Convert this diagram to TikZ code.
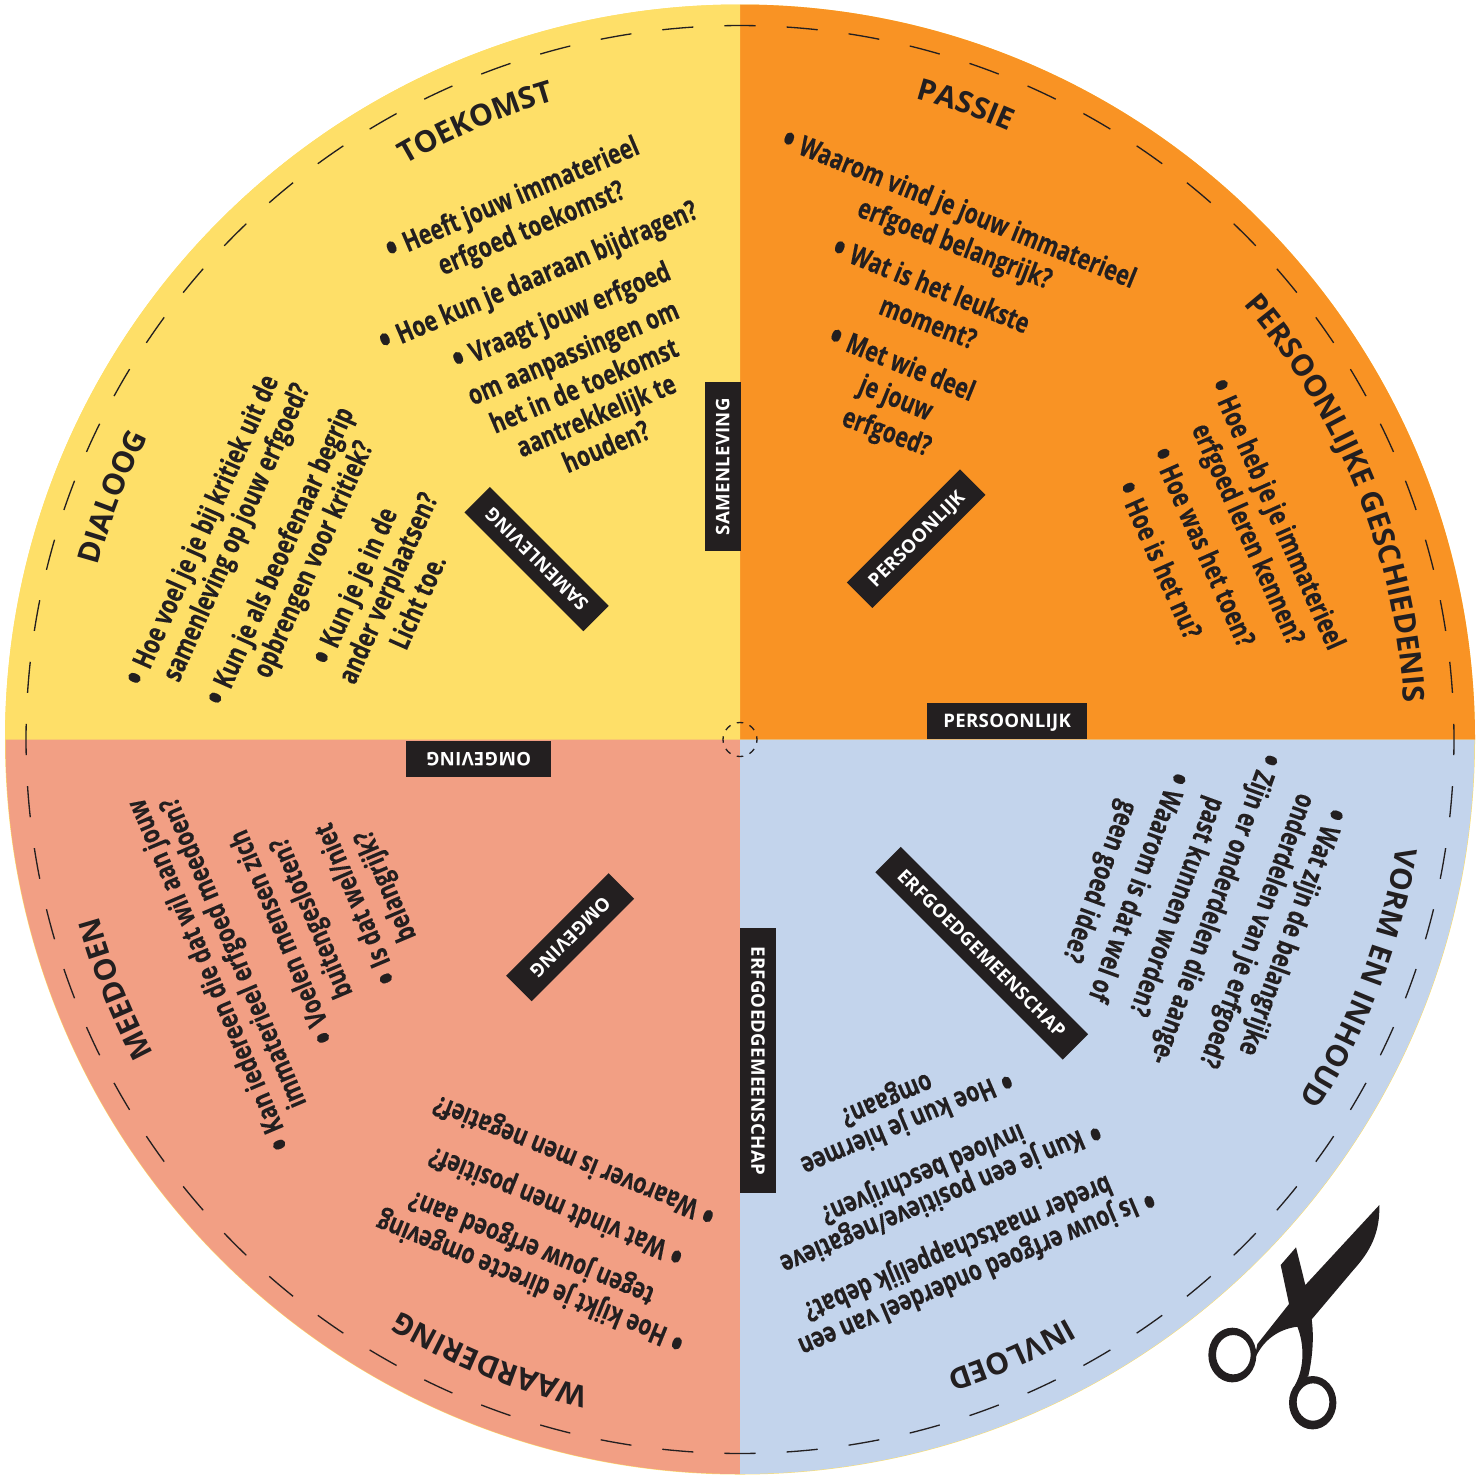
\documentclass[tikz,border=0pt]{standalone}
\usepackage{fontspec}
\usetikzlibrary{decorations.text}
\newfontfamily\bodyf{Open Sans}[FakeStretch=0.76,BoldFeatures={FakeBold=0.25}]
\newfontfamily\titlef{Open Sans}
\newfontfamily\tagf{Open Sans}[LetterSpace=1.5]
\definecolor{ink}{HTML}{231F20}
\definecolor{qyellow}{HTML}{FEDF68}
\definecolor{qorange}{HTML}{F99324}
\definecolor{qsalmon}{HTML}{F29F84}
\definecolor{qblue}{HTML}{C3D4EC}
\newcommand{\bu}{{\fontsize{23}{16}\selectfont\raisebox{-2.2pt}{•}}\hspace{4pt}}
\tikzset{
  body/.style={text=ink,inner sep=0pt,text height=11.5pt,text depth=3.5pt,font=\bodyf\bfseries\fontsize{16}{16}\selectfont},
  tagbox/.style={fill=ink,text=white,inner sep=0pt,minimum height=0.72cm,text height=7.6pt,text depth=0pt,font=\tagf\bfseries\fontsize{10.6}{10.6}\selectfont},
  cutline/.style={draw=ink,line width=0.75pt}
}
\newcommand{\arctitle}[2]{%
  \path[decorate,decoration={text along path,text color=ink,text align=center,
    text={|\titlef\bfseries\fontsize{17}{17}\selectfont|#2}}]
    (#1+35:13.3) arc[start angle=#1+35,end angle=#1-35,radius=13.3];}
\begin{document}
\begin{tikzpicture}
\useasboundingbox (0,0) rectangle (29.58,-29.58);
% wheel
\begin{scope}[shift={(14.8,-14.79)}]
  \fill[qyellow] (0,0) circle[radius=14.7];
  \fill[qorange] (0,0) -- (14.7,0) arc[start angle=0,end angle=90,radius=14.7] -- cycle;
  \fill[qyellow] (0,0) -- (0,14.7) arc[start angle=90,end angle=180,radius=14.7] -- cycle;
  \fill[qsalmon] (0,0) -- (-14.69,0) arc[start angle=180,end angle=270,radius=14.69] -- cycle;
  \fill[qblue] (0,0) -- (0,-14.69) arc[start angle=270,end angle=360,radius=14.69] -- cycle;
  \foreach \k in {0,...,71}{
    \draw[cutline] (5*\k-1.25:14.28) arc[start angle=5*\k-1.25,end angle=5*\k+1.25,radius=14.28];
  }
  \foreach \k in {0,...,7}{
    \draw[cutline] (45*\k-11:0.34) arc[start angle=45*\k-11,end angle=45*\k+11,radius=0.34];
  }
  \arctitle{70.4}{PASSIE}
  \arctitle{22}{PERSOONLIJKE GESCHIEDENIS}
  \arctitle{-21}{VORM EN INHOUD}
  \arctitle{-66.2}{INVLOED}
  \arctitle{-112}{WAARDERING}
  \arctitle{-158.2}{MEEDOEN}
  \arctitle{158.9}{DIALOOG}
  \arctitle{113.2}{TOEKOMST}
\end{scope}
\begin{scope}[x=0.02cm,y=-0.02cm]
% tags
\node[tagbox,minimum width=3.38cm,rotate=90] (tag1) at (722.5,466.5) {SAMENLEVING};
\node[tagbox,minimum width=3.2cm] (tag2) at (1007,721) {PERSOONLIJK};
\node[tagbox,minimum width=5.3cm,rotate=-90] (tag3) at (758,1060.5) {ERFGOEDGEMEENSCHAP\hspace{0.25cm}};
\node[tagbox,minimum width=2.9cm,rotate=180] (tag4) at (478.5,759) {OMGEVING};
\node[tagbox,minimum width=3.2cm,rotate=45] (tag5) at (916,538.5) {PERSOONLIJK};
\node[tagbox,minimum width=3.36cm,rotate=135] (tag6) at (536.5,559) {SAMENLEVING};
\node[tagbox,minimum width=2.9cm,rotate=225] (tag7) at (570,937) {OMGEVING};
\node[tagbox,minimum width=5.3cm,rotate=-45] (tag8) at (981.5,953) {ERFGOEDGEMEENSCHAP\hspace{0.14cm}};
% orange top
\node[body,rotate=-22] (a1) at (958,211) {\bu Waarom vind je jouw immaterieel};
\node[body,rotate=-21] (a2) at (954,246) {erfgoed belangrijk?};
\node[body,rotate=-22] (a3) at (930,288) {\bu Wat is het leukste};
\node[body,rotate=-21] (a4) at (927,325) {moment?};
\node[body,rotate=-22] (a5) at (901,366) {\bu Met wie deel};
\node[body,rotate=-22] (a6) at (895,400) {je jouw};
\node[body,rotate=-20] (a7) at (886,434) {erfgoed?};
% orange right
\node[body,rotate=-66] (b1) at (1275,515) {\bu Hoe heb je je immaterieel};
\node[body,rotate=-66] (b2) at (1246,535) {erfgoed leren kennen?};
\node[body,rotate=-66] (b3) at (1201,548) {\bu Hoe was het toen?};
\node[body,rotate=-66] (b4) at (1157,561) {\bu Hoe is het nu?};
% blue right
\node[body,rotate=-110] (c1) at (1290,931) {\bu Wat zijn de belangrijke};
\node[body,rotate=-110] (c2) at (1255,930) {onderdelen van je erfgoed?};
\node[body,rotate=-110] (c3) at (1213,908) {\bu Zijn er onderdelen die aange-};
\node[body,rotate=-110] (c4) at (1175,906) {past kunnen worden?};
\node[body,rotate=-110] (c5) at (1136,886) {\bu Waarom is dat wel of};
\node[body,rotate=-110] (c6) at (1098,881) {geen goed idee?};
% blue bottom
\node[body,rotate=203] (d1) at (976,1271) {\bu Is jouw erfgoed onderdeel van een};
\node[body,rotate=203] (d2) at (957,1246) {breder maatschappelijk debat?};
\node[body,rotate=203] (d3) at (940,1196) {\bu Kun je een positieve/negatieve};
\node[body,rotate=203] (d4) at (922,1172) {invloed beschrijven?};
\node[body,rotate=203] (d5) at (906,1121) {\bu Hoe kun je hiermee};
\node[body,rotate=203] (d6) at (886,1098) {omgaan?};
% salmon bottom
\node[body,rotate=158] (e1) at (531,1280) {\bu Hoe kijkt je directe omgeving};
\node[body,rotate=158] (e2) at (532,1246) {tegen jouw erfgoed aan?};
\node[body,rotate=158] (e3) at (557,1204) {\bu Wat vindt men positief?};
\node[body,rotate=158] (e4) at (575,1158) {\bu Waarover is men negatief?};
% salmon left
\node[body,rotate=113] (f1) at (211,974) {\bu Kan iedereen die dat wil aan jouw};
\node[body,rotate=113] (f2) at (235,952) {immaterieel erfgoed meedoen?};
\node[body,rotate=113] (f3) at (284,936) {\bu Voelen mensen zich};
\node[body,rotate=113] (f4) at (313,917) {buitengesloten?};
\node[body,rotate=113] (f5) at (358,903) {\bu Is dat wel/niet};
\node[body,rotate=113] (f6) at (387,885) {belangrijk?};
% yellow left
\node[body,rotate=66] (g1) at (204,531) {\bu Hoe voel je je bij kritiek uit de};
\node[body,rotate=66] (g2) at (238,533) {samenleving op jouw erfgoed?};
\node[body,rotate=66] (g3) at (282,557) {\bu Kun je als beoefenaar begrip};
\node[body,rotate=66] (g4) at (315,560) {opbrengen voor kritiek?};
\node[body,rotate=66] (g5) at (357,587) {\bu Kun je je in de};
\node[body,rotate=66] (g6) at (390,589) {ander verplaatsen?};
\node[body,rotate=66] (g7) at (420,603) {Licht toe.};
% yellow top
\node[body,rotate=23] (h1) at (513,200) {\bu Heeft jouw immaterieel};
\node[body,rotate=23] (h2) at (532,230) {erfgoed toekomst?};
\node[body,rotate=23] (h3) at (539,278) {\bu Hoe kun je daaraan bijdragen?};
\node[body,rotate=23] (h4) at (562,318) {\bu Vraagt jouw erfgoed};
\node[body,rotate=23] (h5) at (574,355) {om aanpassingen om};
\node[body,rotate=23] (h6) at (585,388) {het in de toekomst};
\node[body,rotate=23] (h7) at (597,418) {aantrekkelijk te};
\node[body,rotate=23] (h8) at (607,449) {houden?};
\end{scope}
% scissors
\begin{scope}[shift={(23.6,-23.8)},x=0.006667cm,y=-0.006667cm]
  \fill[ink] (598,45) -- (376,285) -- (348,172) -- (302,225) -- (327,342) -- (232,462)
    -- (222,512) .. controls (245,455) and (290,418) .. (352,410)
    .. controls (372,460) and (375,530) .. (345,585)
    -- (385,558) .. controls (398,500) and (402,440) .. (395,388)
    -- (520,240) .. controls (570,185) and (600,130) .. (598,45) -- cycle;
  \fill[ink,even odd rule] (157,495) ellipse[x radius=72,y radius=82] (160,494) ellipse[x radius=52,y radius=59];
  \fill[ink,even odd rule] (398,638) ellipse[x radius=71,y radius=80] (399,636) ellipse[x radius=49,y radius=56];
\end{scope}
\end{tikzpicture}
\end{document}
